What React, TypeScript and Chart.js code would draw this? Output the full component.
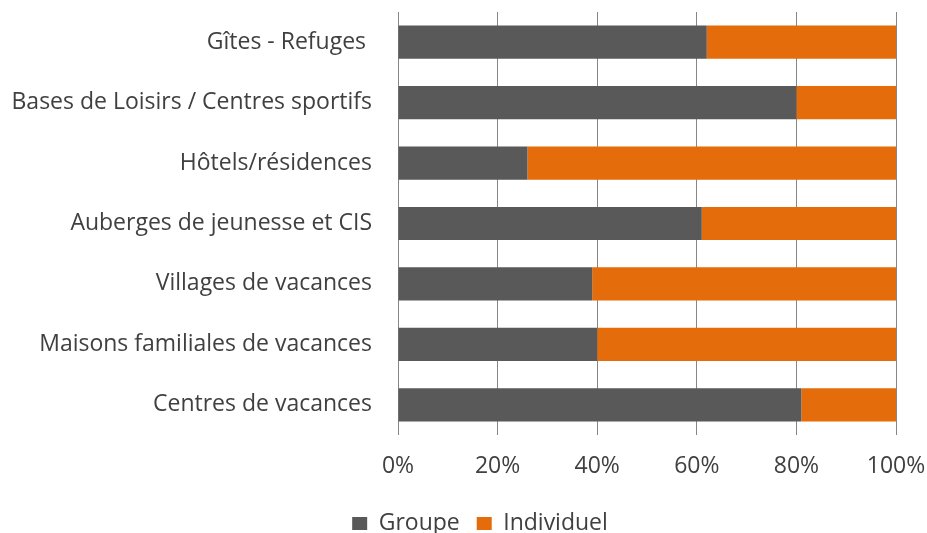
import { useEffect, useRef } from 'react';
import { Chart, registerables } from 'chart.js';
Chart.register(...registerables);

const categories = [
  'Gîtes - Refuges ',
  'Bases de Loisirs / Centres sportifs',
  'Hôtels/résidences',
  'Auberges de jeunesse et CIS',
  'Villages de vacances',
  'Maisons familiales de vacances',
  'Centres de vacances',
];
const groupe = [62, 80, 26, 61, 39, 40, 81];
const individuel = [38, 20, 74, 39, 61, 60, 19];
const seriesNames = ['Groupe', 'Individuel'];

const FONT = 'Open Sans, Noto Sans, sans-serif';
const TEXT = '#404040';

const legendShift = {
  id: 'legendShift',
  afterLayout(chart: any) {
    const l = chart.legend;
    if (l) {
      l.top += 12;
      l.bottom += 12;
      l.left += 32;
      l.right += 32;
    }
  },
};

export default function App() {
  const ref = useRef<HTMLCanvasElement>(null);
  useEffect(() => {
    document.body.style.margin = '0';
    const chart = new Chart(ref.current!, {
      type: 'bar',
      data: {
        labels: categories,
        datasets: [
          { label: seriesNames[0], data: groupe, backgroundColor: '#595959', barPercentage: 0.55, categoryPercentage: 1 },
          { label: seriesNames[1], data: individuel, backgroundColor: '#E46C0A', barPercentage: 0.55, categoryPercentage: 1 },
        ],
      },
      options: {
        indexAxis: 'y',
        responsive: false,
        animation: false,
        layout: { padding: { top: 12, left: 0, right: 31, bottom: 0 } },
        scales: {
          x: {
            stacked: true,
            min: 0,
            max: 100,
            ticks: {
              stepSize: 20,
              callback: (v: any) => v + '%',
              color: TEXT,
              font: { family: FONT, size: 23 },
              padding: 18,
              maxRotation: 0,
            },
            grid: { color: '#868686', drawTicks: false },
            border: { display: false },
            afterFit: (s: any) => {
              s.height = 48;
              s.paddingLeft = 0;
              s.paddingRight = 0;
            },
          },
          y: {
            stacked: true,
            grid: { display: false, drawTicks: false },
            border: { display: false },
            ticks: { color: TEXT, font: { family: FONT, size: 23 }, padding: 26 },
            afterFit: (s: any) => {
              s.width = 398;
              s.paddingTop = 0;
              s.paddingBottom = 0;
            },
          },
        },
        plugins: {
          legend: {
            position: 'bottom',
            labels: { boxWidth: 15, boxHeight: 13, color: TEXT, font: { family: FONT, size: 23 }, padding: 17 },
          },
          tooltip: { enabled: false },
        },
      },
      plugins: [legendShift],
    });
    return () => chart.destroy();
  }, []);
  return <canvas ref={ref} width={927} height={533} style={{ display: 'block' }} />;
}
